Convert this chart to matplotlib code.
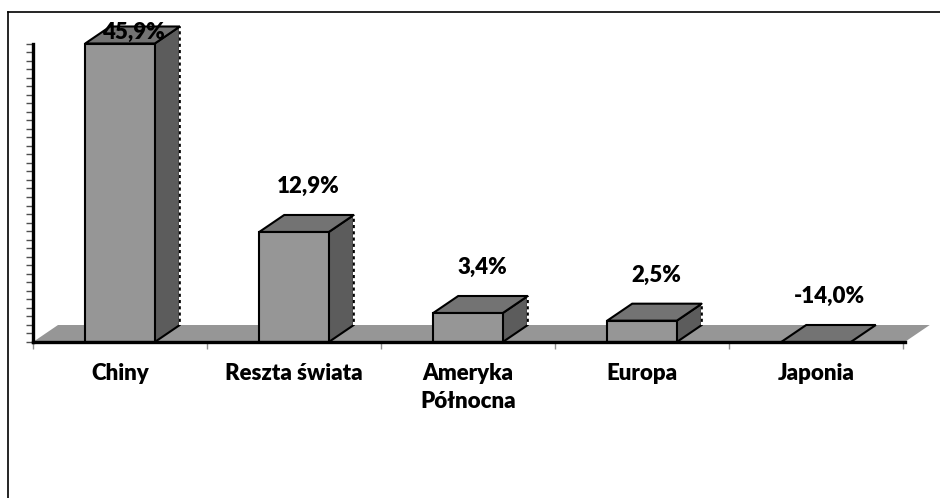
import matplotlib
matplotlib.use("Agg")
import matplotlib.pyplot as plt
from matplotlib.patches import Polygon, Rectangle
from matplotlib.lines import Line2D
import numpy as np

categories = ["Chiny", "Reszta świata", "Ameryka\nPółnocna", "Europa", "Japonia"]
values = [45.9, 12.9, 3.4, 2.5, -14.0]
value_labels = ["45,9%", "12,9%", "3,4%", "2,5%", "-14,0%"]

YMAX = 35
FONT = ["Lato", "DejaVu Sans"]

C_FRONT = "#969696"
C_TOP = "#737373"
C_SIDE = "#5c5c5c"
C_FLOOR = "#969696"

fig = plt.figure(figsize=(9.4, 4.98), dpi=100)
W, H = 940, 498
ax_left, ax_right = 33, 903
ax_bottom_px, ax_top_px = 342, 43.5
ax = fig.add_axes([ax_left / W, (H - ax_bottom_px) / H,
                   (ax_right - ax_left) / W, (ax_bottom_px - ax_top_px) / H])
n = len(categories)
ax.set_xlim(0, n)
ax.set_ylim(0, YMAX)
ax.patch.set_alpha(0)

# depth offsets in data units
DX = 25 / ((ax_right - ax_left) / n)
DY = 17 / ((ax_bottom_px - ax_top_px) / YMAX)
BW = 0.4

# floor
floor = Polygon([(0, 0), (n + 0.01, 0), (n + 0.01 + DX, DY), (DX, DY)],
                closed=True, facecolor=C_FLOOR, edgecolor="none", zorder=1, clip_on=False)
ax.add_patch(floor)

lw = 1.5
for i, v in enumerate(values):
    h = min(max(v, 0), YMAX)
    x0 = i + 0.5 - BW / 2
    x1 = i + 0.5 + BW / 2
    if h > 0:
        side = Polygon([(x1, 0), (x1 + DX, DY), (x1 + DX, h + DY), (x1, h)], closed=True,
                       facecolor=C_SIDE, edgecolor="black", linewidth=lw, zorder=3,
                       clip_on=False, joinstyle="miter")
        ax.add_patch(side)
        ax.add_line(Line2D([x1 + DX, x1 + DX], [DY, h + DY], color="white", linewidth=lw,
                           linestyle=(0, (1.5, 1.5)), zorder=3.5, clip_on=False))
    top = Polygon([(x0, h), (x1, h), (x1 + DX, h + DY), (x0 + DX, h + DY)], closed=True,
                  facecolor=C_TOP, edgecolor="black", linewidth=lw, zorder=4,
                  clip_on=False, joinstyle="miter")
    ax.add_patch(top)
    if h > 0:
        front = Rectangle((x0, 0), BW, h, facecolor=C_FRONT, edgecolor="black",
                          linewidth=lw, zorder=5, clip_on=False, joinstyle="miter")
        ax.add_patch(front)
    if v > YMAX:
        ly = YMAX + 1.3
    else:
        ly = h + DY + 3.3
    ax.text(i + 0.5 + 0.08, ly, value_labels[i], ha="center", va="center",
            fontsize=16, fontweight="heavy", family=FONT, zorder=10, clip_on=False)

# axes styling
for s in ["top", "right"]:
    ax.spines[s].set_visible(False)
ax.spines["left"].set_linewidth(2.4)
ax.spines["bottom"].set_linewidth(2.4)
ax.spines["bottom"].set_bounds(0, n + 0.01)
ax.spines["left"].set_zorder(6)
ax.spines["bottom"].set_zorder(6)

ax.set_yticks(np.arange(0, YMAX + 1, 1))
ax.set_yticklabels([])
ax.tick_params(axis="y", direction="out", length=5, width=1, color="#505050")

ax.set_xticks([i + 0.5 for i in range(n)])
labels = ax.set_xticklabels(categories, fontsize=16, fontweight="heavy", family=FONT)
for t in labels:
    t.set_linespacing(1.4)
ax.set_xticks(np.arange(0, n + 1, 1), minor=True)
ax.tick_params(axis="x", which="major", length=0, pad=15)
ax.tick_params(axis="x", which="minor", direction="out", length=5, width=1, color="#909090")

# outer frame (left and top)
fig.add_artist(Line2D([8 / W, 8 / W], [0, 1 - 12 / H], color="black", linewidth=1.2,
                      transform=fig.transFigure))
fig.add_artist(Line2D([8 / W, 1], [1 - 12 / H, 1 - 12 / H], color="black", linewidth=1.2,
                      transform=fig.transFigure))

fig.savefig("out.png", dpi=100)
